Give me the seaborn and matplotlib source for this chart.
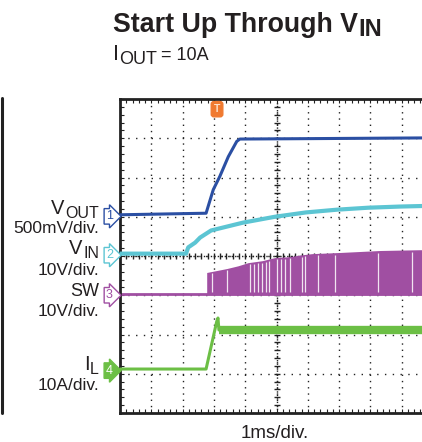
import numpy as np
import pandas as pd
import matplotlib
matplotlib.use('Agg')
import matplotlib.pyplot as plt
import matplotlib.transforms as mtransforms
from matplotlib.lines import Line2D
import seaborn as sns

# time in ms (1ms/div), values in physical units
vout_t = [0.0, 2.75, 2.98, 3.19, 3.46, 3.73, 3.83, 6.0, 10.0]
vout_v = [0.0, 0.02, 0.32, 0.49, 0.74, 0.935, 0.965, 0.97, 0.98]

vin_t = [0.0, 2.11, 2.18, 2.40, 2.56, 2.91, 3.93, 4.95, 5.94, 6.93, 7.92, 8.95, 10.0]
vin_v = [0.0, 0.0, 1.6, 2.8, 4.1, 5.9, 7.9, 9.4, 10.5, 11.2, 11.7, 12.0, 12.2]

sw_t = [2.77, 3.41, 3.77, 4.09, 4.54, 4.95, 5.37, 5.81, 6.13, 7.03, 8.31, 9.58, 10.0]
sw_top = [5.4, 6.4, 7.1, 7.9, 8.4, 9.2, 9.4, 9.9, 10.2, 10.5, 11.0, 11.2, 11.2]
sw_gaps = [2.94, 3.42, 4.15, 4.28, 4.41, 4.54, 4.66, 4.76, 5.02, 5.14, 5.27,
           5.43, 5.81, 5.91, 6.33, 6.87, 8.24, 9.33]

il_t = [0.0, 2.75, 3.09, 3.13, 3.16, 10.0]
il_a = [0.0, 0.0, 12.1, 13.0, 9.95, 9.95]

trigger_t = 3.1

# channel settings: ground position (div) and scale (units/div)
ch = {
    'vout': dict(offset=5.05, scale=0.5, color='#2b4fa3', num='1'),
    'vin': dict(offset=4.06, scale=10, color='#5cc5d3', num='2'),
    'sw': dict(offset=3.04, scale=10, color='#a04fa2', num='3'),
    'il': dict(offset=1.12, scale=10, color='#6cbf45', num='4'),
}


def to_div(name, vals):
    c = ch[name]
    return c['offset'] + np.asarray(vals, dtype=float) / c['scale']


sns.set_theme(style='white')
plt.rcParams['font.family'] = ['Liberation Sans', 'DejaVu Sans']

W, H = 422, 442
TXT = '#231f20'
fig = plt.figure(figsize=(W / 100, H / 100), dpi=100)
renderer = fig.canvas.get_renderer()


def ftext(xpx, ypx, s, **kw):
    return fig.text(xpx / W, 1 - ypx / H, s, va='baseline', color=TXT, **kw)


def sub_label(xpx, ypx, main, sub, size, subsize, drop, align='right', weight='normal'):
    # main letter + subscript drawn as two plain texts
    if align == 'right':
        t = ftext(xpx, ypx + drop, sub, ha='right', fontsize=subsize, fontweight=weight)
        w = t.get_window_extent(renderer).width
        ftext(xpx - w - 0.5, ypx, main, ha='right', fontsize=size, fontweight=weight)
    else:
        t = ftext(xpx, ypx, main, ha='left', fontsize=size, fontweight=weight)
        w = t.get_window_extent(renderer).width
        t2 = ftext(xpx + w + 0.5, ypx + drop, sub, ha='left', fontsize=subsize, fontweight=weight)
        return xpx + w + 0.5 + t2.get_window_extent(renderer).width


ax = fig.add_axes([120 / W, 1 - 413 / H, 313 / W, 314 / H])
ax.set_xlim(0, 10)
ax.set_ylim(0, 8)

# grid
ax.set_xticks(np.arange(0, 11, 1))
ax.set_yticks(np.arange(0, 9, 1))
ax.set_xticks(np.arange(0, 10.01, 0.2), minor=True)
ax.set_yticks(np.arange(0, 8.01, 0.2), minor=True)
ax.tick_params(which='both', direction='in', length=3, width=0.8, color='#222222',
               top=True, bottom=True, left=True, right=False,
               labelbottom=False, labelleft=False)
ax.xaxis.grid(True, color='#222222', lw=1.0, linestyle=(0, (1, 3.5)))
ax.yaxis.grid(True, color='#222222', lw=1.0, linestyle=(0, (1, 4.6)))
ax.axvline(5, color='#222222', lw=1.0, linestyle=(0, (1, 1.5)), zorder=1)
ax.axhline(4, color='#222222', lw=1.0, linestyle=(0, (1, 1.5)), zorder=1)
cx = np.arange(0, 10.01, 0.2)
cy = np.arange(0, 8.01, 0.2)
ax.plot(np.full_like(cy, 5), cy, ls='none', marker='_', ms=5, mew=1, color='#222222', zorder=1)
ax.plot(cx, np.full_like(cx, 4), ls='none', marker='|', ms=5, mew=1, color='#222222', zorder=1)
for side in ['left', 'top', 'bottom']:
    ax.spines[side].set_linewidth(2.0)
    ax.spines[side].set_color('#222222')
ax.spines['right'].set_visible(False)

# SW: switching node band
sw_df = pd.DataFrame({'t': sw_t, 'top': to_div('sw', sw_top)})
ax.plot([0, 10], to_div('sw', [0, 0]), color=ch['sw']['color'], lw=2)
ax.fill_between(sw_df['t'], ch['sw']['offset'] - 0.03, sw_df['top'],
                color=ch['sw']['color'], lw=0, zorder=2)
gap_top = np.interp(sw_gaps, sw_t, to_div('sw', sw_top))
ax.vlines(sw_gaps, ch['sw']['offset'] + 0.05, gap_top - 0.05, color='white', lw=0.9,
          alpha=0.85, zorder=2)

# VIN
vin_df = pd.DataFrame({'t': vin_t, 'v': to_div('vin', vin_v)})
sns.lineplot(data=vin_df, x='t', y='v', ax=ax, color=ch['vin']['color'], lw=3,
             estimator=None, sort=False, zorder=3)

# VOUT
vout_df = pd.DataFrame({'t': vout_t, 'v': to_div('vout', vout_v)})
sns.lineplot(data=vout_df, x='t', y='v', ax=ax, color=ch['vout']['color'], lw=2.2,
             estimator=None, sort=False, zorder=4)

# IL
il_df = pd.DataFrame({'t': il_t, 'v': to_div('il', il_a)})
sns.lineplot(data=il_df, x='t', y='v', ax=ax, color=ch['il']['color'], lw=2.2,
             estimator=None, sort=False, zorder=4)
plateau = il_df.iloc[-2:]
ax.plot(plateau['t'], plateau['v'], color=ch['il']['color'], lw=6, solid_capstyle='butt', zorder=4)
ax.set_xlabel('')
ax.set_ylabel('')

# trigger marker
ax.text(trigger_t, 7.74, 'T', color='#fde0c8', fontsize=7.5, fontweight='bold', ha='center',
        va='center', zorder=6, clip_on=False,
        bbox=dict(boxstyle='round,pad=0.25', fc='#f07a30', ec='#f07a30'))

# channel markers
trans = mtransforms.blended_transform_factory(ax.transAxes, ax.transData)
for key, c in ch.items():
    filled = key == 'il'
    ax.text(-0.034, c['offset'] - 0.04, c['num'], transform=trans, fontsize=9,
            ha='center', va='center', color='white' if filled else c['color'],
            clip_on=False, zorder=6,
            bbox=dict(boxstyle='rarrow,pad=0.14', fc=c['color'] if filled else 'white',
                      ec=c['color'], lw=1))

# left side labels
lx = 99
sub_label(lx, 214, 'V', 'OUT', 14.5, 11.5, 4)
ftext(lx, 233, '500mV/div.', ha='right', fontsize=12.5)
sub_label(lx, 254, 'V', 'IN', 14.5, 11.5, 4)
ftext(lx, 275, '10V/div.', ha='right', fontsize=12.5)
ftext(lx, 296, 'SW', ha='right', fontsize=13)
ftext(lx, 316, '10V/div.', ha='right', fontsize=12.5)
sub_label(lx, 370, 'I', 'L', 14.5, 11.5, 4)
ftext(lx, 390, '10A/div.', ha='right', fontsize=12.5)

ftext(275, 438, '1ms/div.', ha='center', fontsize=13.5)

# title
x_end = sub_label(113, 31.5, 'Start Up Through V', 'IN', 19.3, 17, 5, align='left',
                  weight='bold')
x_i = sub_label(113, 60, 'I', 'OUT', 15.5, 13, 4, align='left')
ftext(x_i + 4, 60, '= 10A', ha='left', fontsize=13)

fig.add_artist(Line2D([1.5 / W, 1.5 / W], [1 - 98 / H, 1 - 413 / H], lw=2.2, color='#222222'))

fig.savefig('out.png', dpi=100)
